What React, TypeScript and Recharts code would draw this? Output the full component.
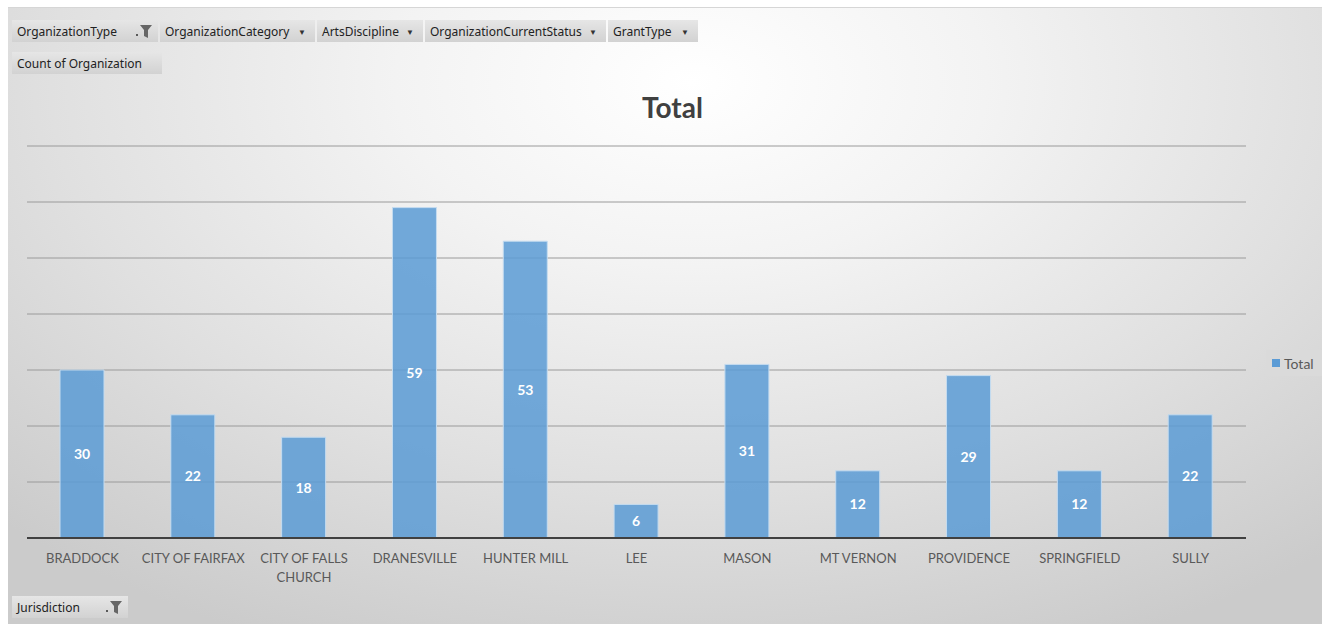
import { BarChart, Bar, XAxis, YAxis, CartesianGrid, LabelList, ReferenceLine } from 'recharts';

// jurisdictions and organization counts
const jurisdictions = [
  'BRADDOCK',
  'CITY OF FAIRFAX',
  'CITY OF FALLS CHURCH',
  'DRANESVILLE',
  'HUNTER MILL',
  'LEE',
  'MASON',
  'MT VERNON',
  'PROVIDENCE',
  'SPRINGFIELD',
  'SULLY',
];
const totals = [30, 22, 18, 59, 53, 6, 31, 12, 29, 12, 22];
const gridTicks = [0, 10, 20, 30, 40, 50, 60, 70];
const filterFields = ['OrganizationType', 'OrganizationCategory', 'ArtsDiscipline', 'OrganizationCurrentStatus', 'GrantType'];
const filterWidths = [146, 155, 106, 181, 90];
const filteredFields = ['OrganizationType'];

const chartData = jurisdictions.map((name, i) => ({ name, total: totals[i] }));

const FONT = 'Lato, "Open Sans", sans-serif';
const BTN_FONT = '"Noto Sans", "Open Sans", sans-serif';

function wrap(label: string, max = 15) {
  const words = label.split(' ');
  const lines: string[] = [];
  let cur = '';
  words.forEach((w) => {
    const next = cur ? cur + ' ' + w : w;
    if (next.length > max && cur) {
      lines.push(cur);
      cur = w;
    } else cur = next;
  });
  if (cur) lines.push(cur);
  return lines;
}

function CategoryTick(props: any) {
  const { x, y, payload } = props;
  const lines = wrap(payload.value);
  return (
    <text x={x} y={y + 17} textAnchor="middle" fill="#595959" fontSize={13} fontFamily={FONT}>
      {lines.map((l, i) => (
        <tspan key={i} x={x} dy={i === 0 ? 0 : 19}>
          {l}
        </tspan>
      ))}
    </text>
  );
}

function Funnel() {
  return (
    <svg width="16" height="13" viewBox="0 0 16 13">
      <rect x="0" y="9" width="2" height="2" fill="#595959" />
      <path d="M4 0 H16 L12 5 V13 L8 11 V5 Z" fill="#666" />
    </svg>
  );
}

function FieldButton({ label, filtered, arrow = true, width }: { label: string; filtered?: boolean; arrow?: boolean; width?: number }) {
  return (
    <div
      style={{
        display: 'flex',
        alignItems: 'center',
        justifyContent: 'space-between',
        height: 22,
        padding: '0 6px 0 5px',
        marginRight: 2,
        width,
        boxSizing: 'border-box',
        background: 'linear-gradient(#e6e6e6, #d2d2d2)',
        fontFamily: BTN_FONT,
        fontSize: 12,
        color: '#222',
        whiteSpace: 'nowrap',
      }}
    >
      <span>{label}</span>
      {filtered ? <Funnel /> : arrow ? <span style={{ fontSize: 8, marginRight: 3, color: '#333' }}>▼</span> : null}
    </div>
  );
}

export default function App() {
  return (
    <div style={{ position: 'absolute', left: 0, top: 0, width: 1322, height: 624, background: '#fff', overflow: 'hidden' }}>
      <div
        style={{
          position: 'absolute',
          left: 8,
          top: 7,
          width: 1314,
          height: 617,
          borderTop: '1px solid #d6d6d6',
          boxSizing: 'border-box',
          background: 'radial-gradient(ellipse 75% 100% at 52% 12%, #ffffff 0%, #f3f3f3 30%, #e0e0e0 65%, #cbcbcb 100%)',
          overflow: 'hidden',
        }}
      >
        <div style={{ position: 'absolute', left: 4, top: 12, display: 'flex' }}>
          {filterFields.map((f, i) => (
            <FieldButton key={f} label={f} width={filterWidths[i]} filtered={filteredFields.includes(f)} />
          ))}
        </div>
        <div style={{ position: 'absolute', left: 4, top: 44 }}>
          <FieldButton label="Count of Organization" arrow={false} width={150} />
        </div>
        <div style={{ position: 'absolute', left: 4, top: 588 }}>
          <FieldButton label="Jurisdiction" filtered width={116} />
        </div>
        <div
          style={{
            position: 'absolute',
            left: 0,
            width: 1314 + 15,
            top: 81,
            textAlign: 'center',
            fontFamily: FONT,
            fontWeight: 700,
            fontSize: 28,
            lineHeight: '36px',
            color: '#404040',
          }}
        >
          Total
        </div>
        <div
          style={{
            position: 'absolute',
            left: 1258,
            top: 342,
            width: 56,
            height: 26,
            background: '#dadada',
            display: 'flex',
            alignItems: 'center',
            fontFamily: FONT,
            fontSize: 14,
            color: '#595959',
          }}
        >
          <span style={{ display: 'inline-block', width: 8, height: 8, background: '#5b9bd5', margin: '0 4px 0 6px' }} />
          Total
        </div>
        <BarChart
          width={1314}
          height={617}
          data={chartData}
          margin={{ top: 138, right: 76, left: 19, bottom: 47 }}
          style={{ position: 'absolute', left: 0, top: 0 }}
        >
          <CartesianGrid vertical={false} stroke="#9a9a9a" strokeWidth={1} />
          <YAxis hide domain={[0, 70]} ticks={gridTicks} />
          <XAxis
            dataKey="name"
            axisLine={false}
            tickLine={false}
            interval={0}
            height={40}
            tick={<CategoryTick />}
          />
          <Bar
            dataKey="total"
            barSize={44}
            fill="#5b9bd5"
            fillOpacity={0.85}
            stroke="#c5dcf0"
            strokeWidth={1}
            isAnimationActive={false}
          >
            <LabelList dataKey="total" position="center" fill="#ffffff" fontSize={14} fontWeight={700} fontFamily={FONT} />
          </Bar>
          <ReferenceLine y={0} stroke="#404040" strokeWidth={2} />
        </BarChart>
      </div>
    </div>
  );
}
